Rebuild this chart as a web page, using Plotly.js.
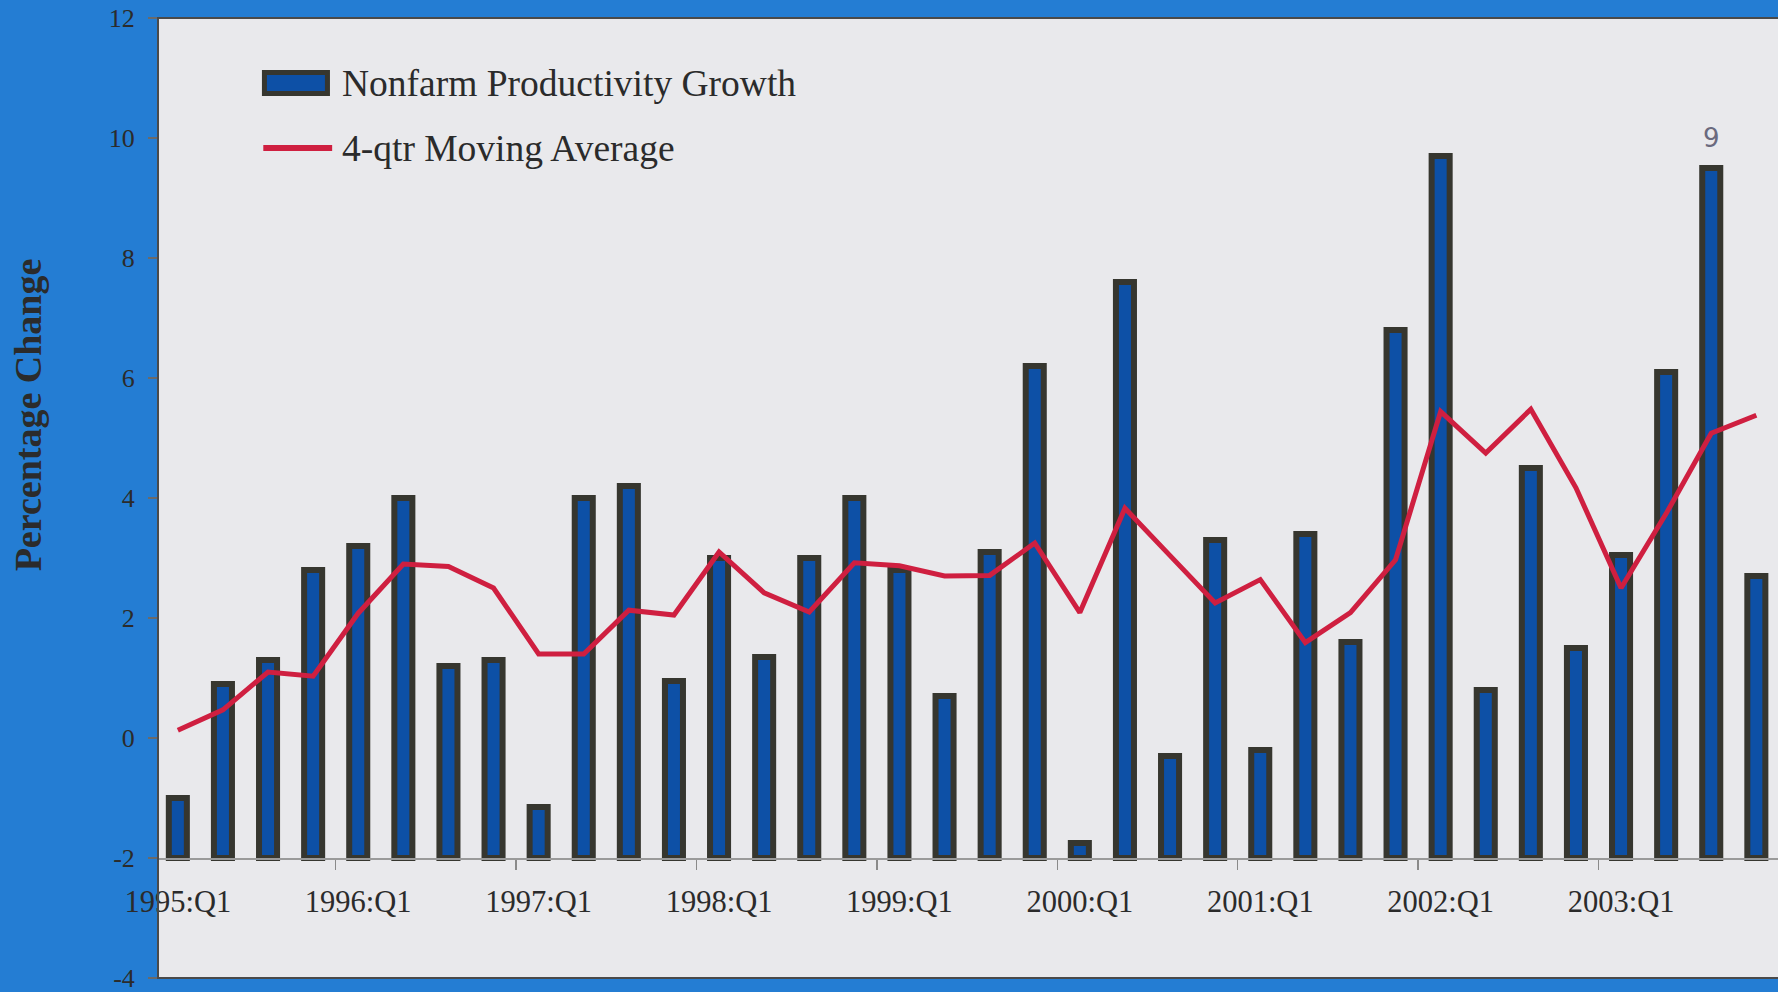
<!DOCTYPE html>
<html>
<head>
<meta charset="utf-8">
<script src="https://cdn.plot.ly/plotly-3.0.1.min.js"></script>
<style>
html, body { margin: 0; padding: 0; background: #247dd3; }
#chart { width: 1778px; height: 992px; }
</style>
</head>
<body>
<div id="chart"></div>
<script>
// ---- data ----
const quarters = [
  "1995:Q1", "1995:Q2", "1995:Q3", "1995:Q4",
  "1996:Q1", "1996:Q2", "1996:Q3", "1996:Q4",
  "1997:Q1", "1997:Q2", "1997:Q3", "1997:Q4",
  "1998:Q1", "1998:Q2", "1998:Q3", "1998:Q4",
  "1999:Q1", "1999:Q2", "1999:Q3", "1999:Q4",
  "2000:Q1", "2000:Q2", "2000:Q3", "2000:Q4",
  "2001:Q1", "2001:Q2", "2001:Q3", "2001:Q4",
  "2002:Q1", "2002:Q2", "2002:Q3", "2002:Q4",
  "2003:Q1", "2003:Q2", "2003:Q3", "2003:Q4"
];
const productivityGrowth = [
  -1.0, 0.9, 1.3, 2.8,
  3.2, 4.0, 1.2, 1.3,
  -1.15, 4.0, 4.2, 0.95,
  3.0, 1.35, 3.0, 4.0,
  2.8, 0.7, 3.1, 6.2,
  -1.75, 7.6, -0.3, 3.3,
  -0.2, 3.4, 1.6, 6.8,
  9.7, 0.8, 4.5, 1.5,
  3.05, 6.1, 9.5, 2.7
];
const movingAverage = [
  0.13, 0.47, 1.10, 1.03,
  2.08, 2.90, 2.86, 2.50,
  1.40, 1.40, 2.13, 2.05,
  3.10, 2.42, 2.10, 2.92,
  2.87, 2.70, 2.71, 3.25,
  2.09, 3.83, 3.04, 2.25,
  2.64, 1.59, 2.09, 2.97,
  5.44, 4.75, 5.48, 4.17,
  2.50, 3.74, 5.08, 5.38
];
const seriesNames = ["Nonfarm Productivity Growth", "4-qtr Moving Average"];
const axisBase = -2;          // the category axis crosses the value axis here
const yTicks = [-4, -2, 0, 2, 4, 6, 8, 10, 12];
const yTickLabels = ["-4", "-2", "0", "2", "4", "6", "8", "10", "12"];
const yTitle = "Percentage Change";
const handNote = { quarter: "2003:Q3", value: 10.0, text: "9" };

// ---- styling ----
const FONT = "Liberation Serif, Times New Roman, serif";
const TEXT = "#2b2b2b";
const BAR_FILL = "#0d50a6";
const BAR_EDGE = "#36362f";
const LINE_RED = "#cf1f40";

const barTrace = {
  type: "bar",
  name: seriesNames[0],
  x: quarters,
  base: axisBase,
  y: productivityGrowth.map(v => v - axisBase),
  width: 0.4,
  marker: { color: BAR_FILL, line: { color: BAR_EDGE, width: 6 } },
  showlegend: false,
  hoverinfo: "skip"
};

const lineTrace = {
  type: "scatter",
  mode: "lines",
  name: seriesNames[1],
  x: quarters,
  y: movingAverage,
  line: { color: LINE_RED, width: 5 },
  showlegend: false,
  hoverinfo: "skip"
};

const layout = {
  width: 1778,
  height: 992,
  margin: { l: 158, r: 0, t: 18, b: 14 },
  paper_bgcolor: "#247dd3",
  plot_bgcolor: "#e9e9ec",
  showlegend: false,
  font: { family: FONT, color: TEXT },
  xaxis: {
    type: "category",
    categoryorder: "array",
    categoryarray: quarters,
    range: [-0.44, 35.48],
    anchor: "free",
    position: 0.125,
    showline: true,
    linecolor: "#9a9a9a",
    linewidth: 1.5,
    showgrid: false,
    zeroline: false,
    ticks: "outside",
    tickson: "boundaries",
    ticklen: 10,
    tickwidth: 1.5,
    tickcolor: "#8a8a8a",
    tickmode: "linear",
    tick0: 0,
    dtick: 4,
    tickangle: 0,
    ticklabelstandoff: 16,
    ticklabeloverflow: "allow",
    tickfont: { family: FONT, size: 30.5, color: TEXT }
  },
  yaxis: {
    range: [-4, 12],
    tickmode: "array",
    tickvals: yTicks,
    ticktext: yTickLabels,
    ticks: "outside",
    ticklen: 9,
    tickwidth: 1.5,
    tickcolor: "#6a6a6a",
    ticklabelstandoff: 8,
    ticklabeloverflow: "allow",
    showgrid: false,
    zeroline: false,
    showline: false,
    tickfont: { family: FONT, size: 26, color: TEXT }
  },
  shapes: [
    // plot frame
    { type: "rect", xref: "paper", yref: "paper", x0: 0, x1: 1.02, y0: 0, y1: 1,
      line: { color: "#4a4a4a", width: 2 }, fillcolor: "rgba(0,0,0,0)", layer: "above" },
    // legend swatches
    { type: "rect", xref: "paper", yref: "paper",
      x0: 0.0657, x1: 0.1046, y0: 0.9213, y1: 0.9432,
      fillcolor: BAR_FILL, line: { color: BAR_EDGE, width: 5 } },
    { type: "line", xref: "paper", yref: "paper",
      x0: 0.0650, x1: 0.1075, y0: 0.8646, y1: 0.8646,
      line: { color: LINE_RED, width: 6 } }
  ],
  annotations: [
    { xref: "paper", yref: "paper", x: -0.080, y: 0.5865, xanchor: "center", yanchor: "middle",
      textangle: -90, text: "<b>" + yTitle + "</b>", showarrow: false,
      font: { family: FONT, size: 38, color: TEXT } },
    { xref: "paper", yref: "paper", x: 0.1123, y: 0.932, xanchor: "left", yanchor: "middle",
      text: seriesNames[0], showarrow: false, font: { family: FONT, size: 37.5, color: TEXT } },
    { xref: "paper", yref: "paper", x: 0.1123, y: 0.864, xanchor: "left", yanchor: "middle",
      text: seriesNames[1], showarrow: false, font: { family: FONT, size: 37.5, color: TEXT } },
    { xref: "x", yref: "y", x: handNote.quarter, y: handNote.value, xanchor: "center", yanchor: "middle",
      text: handNote.text, showarrow: false,
      font: { family: "DejaVu Sans", size: 26, color: "#6b6a7e" } }
  ]
};

Plotly.newPlot("chart", [barTrace, lineTrace], layout, { staticPlot: true, displayModeBar: false });
</script>
</body>
</html>
